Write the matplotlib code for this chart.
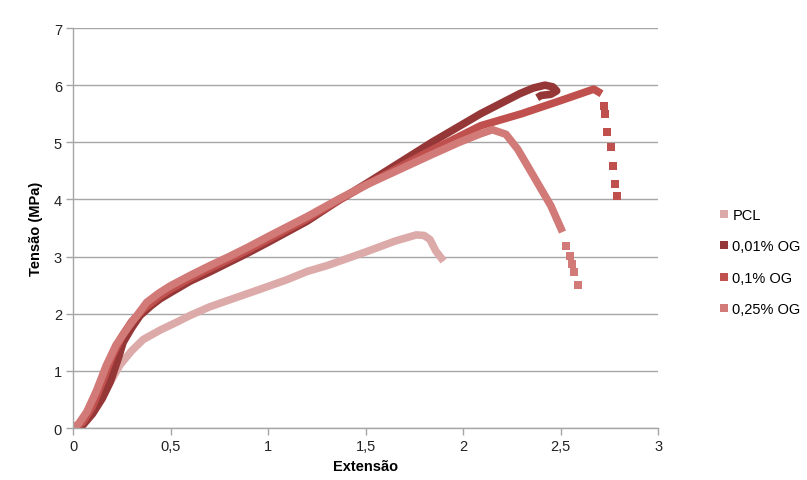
import matplotlib.pyplot as plt
from matplotlib.lines import Line2D

plt.rcParams['font.family'] = ['Liberation Sans', 'DejaVu Sans']

# PCL
pcl_x = [0, 0.05, 0.1, 0.15, 0.2, 0.24, 0.3, 0.36, 0.45, 0.53, 0.6, 0.7, 0.8, 0.96,
         1.1, 1.2, 1.3, 1.5, 1.65, 1.76, 1.8, 1.83, 1.86, 1.9]
pcl_y = [0, 0.1, 0.35, 0.62, 0.86, 1.1, 1.35, 1.55, 1.72, 1.85, 1.97, 2.12, 2.24, 2.43,
         2.6, 2.74, 2.84, 3.08, 3.27, 3.38, 3.37, 3.3, 3.1, 2.92]

# 0,01% OG
og001_x = [0, 0.05, 0.1, 0.15, 0.19, 0.23, 0.257, 0.3, 0.344, 0.4, 0.446, 0.5, 0.6,
           0.7, 0.8, 0.9, 1.0, 1.2, 1.37, 1.5, 1.84, 2.09, 2.29, 2.36, 2.42, 2.46,
           2.48, 2.45, 2.4, 2.38]
og001_y = [0, 0.05, 0.25, 0.52, 0.8, 1.2, 1.5, 1.75, 1.97, 2.14, 2.26, 2.37, 2.57,
           2.73, 2.9, 3.07, 3.25, 3.62, 4.0, 4.27, 5.0, 5.5, 5.85, 5.95, 6.0, 5.97,
           5.9, 5.84, 5.82, 5.78]

# 0,1% OG
og01_x = [0, 0.05, 0.1, 0.15, 0.2, 0.25, 0.3, 0.36, 0.45, 0.5, 0.6, 0.7, 0.8, 0.9,
          1.0, 1.2, 1.37, 1.5, 1.83, 1.92, 2.09, 2.3, 2.5, 2.67, 2.71]
og01_y = [0, 0.1, 0.38, 0.8, 1.25, 1.6, 1.86, 2.08, 2.32, 2.43, 2.62, 2.79, 2.95, 3.12,
          3.3, 3.66, 4.0, 4.25, 4.85, 5.0, 5.29, 5.5, 5.73, 5.93, 5.85]
og01_tail_x = [2.72, 2.73, 2.74, 2.76, 2.77, 2.78, 2.79]
og01_tail_y = [5.64, 5.5, 5.18, 4.92, 4.59, 4.27, 4.06]

# 0,25% OG
og025_x = [0, 0.03, 0.07, 0.12, 0.17, 0.22, 0.275, 0.33, 0.378, 0.44, 0.5, 0.6, 0.7,
           0.8, 0.9, 1.0, 1.2, 1.37, 1.5, 1.83, 1.98, 2.09, 2.15, 2.22, 2.28, 2.33,
           2.39, 2.45, 2.51]
og025_y = [0, 0.08, 0.28, 0.65, 1.09, 1.45, 1.73, 1.98, 2.2, 2.36, 2.49, 2.67, 2.84,
           3.0, 3.17, 3.35, 3.7, 4.02, 4.25, 4.77, 5.0, 5.15, 5.22, 5.14, 4.88, 4.59,
           4.24, 3.89, 3.43]
og025_tail_x = [2.53, 2.55, 2.56, 2.57, 2.59]
og025_tail_y = [3.19, 3.01, 2.87, 2.73, 2.5]

labels = ['PCL', '0,01% OG', '0,1% OG', '0,25% OG']
colors = ['#DDAAAA', '#963737', '#C0504D', '#D27A78']

x_ticks = [0, 0.5, 1, 1.5, 2, 2.5, 3]
x_tick_labels = ['0', '0,5', '1', '1,5', '2', '2,5', '3']
y_ticks = [0, 1, 2, 3, 4, 5, 6, 7]

fig = plt.figure(figsize=(8.07, 4.81), dpi=100)
ax = fig.add_axes([0.0905, 0.108, 0.725, 0.8317])

lw = 5.5
style = dict(lw=lw, solid_joinstyle='round', solid_capstyle='butt')
ax.plot(pcl_x, pcl_y, color=colors[0], **style)
ax.plot(og001_x, og001_y, color=colors[1], **style)
ax.plot(og01_x, og01_y, color=colors[2], **style)
ax.plot(og01_tail_x, og01_tail_y, 's', color=colors[2], ms=5.3, mew=0)
ax.plot(og025_x, og025_y, color=colors[3], **style)
ax.plot(og025_tail_x, og025_tail_y, 's', color=colors[3], ms=5.3, mew=0)

ax.set_xlim(0, 3)
ax.set_ylim(0, 7)
ax.set_xticks(x_ticks)
ax.set_xticklabels(x_tick_labels)
ax.set_yticks(y_ticks)

ax.yaxis.grid(True, color='#A6A6A6', lw=1)
ax.set_axisbelow(True)
for s in ['top', 'right']:
    ax.spines[s].set_visible(False)
for s in ['left', 'bottom']:
    ax.spines[s].set_color('#A6A6A6')
    ax.spines[s].set_linewidth(1)
ax.tick_params(axis='both', colors='#A6A6A6', length=5, width=1, labelsize=10.5,
               labelcolor='#222222', pad=3)

ax.set_xlabel('Extensão', fontsize=10.5, fontweight='bold', labelpad=4)
ax.set_ylabel('Tensão (MPa)', fontsize=10.5, fontweight='bold', labelpad=8)

handles = [Line2D([], [], marker='s', ls='', color=c, ms=5.5, mew=0) for c in colors]
fig.legend(handles, labels, loc='upper left', bbox_to_anchor=(0.884, 0.578),
           frameon=False, fontsize=10.5, handlelength=0.6, handletextpad=0.3,
           labelspacing=1.2, borderaxespad=0)

fig.savefig('out.png', dpi=100)
